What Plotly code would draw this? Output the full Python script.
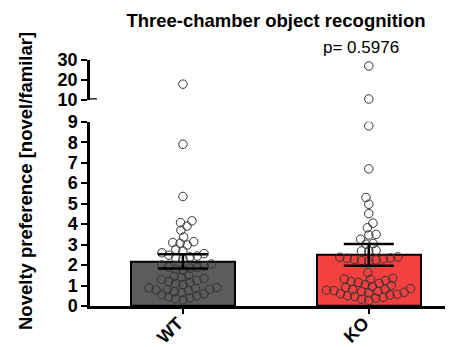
import math
import plotly.graph_objects as go

# ---- data -------------------------------------------------------------
groups = ["WT", "KO"]
group_means = [2.18, 2.50]
group_sem = [0.35, 0.53]
bar_colors = ["#5c5c5c", "#f4413f"]

wt_values = [
    17.8,
    7.9, 5.35, 4.16, 4.07, 3.9, 3.7, 3.37, 3.14, 3.1, 3.06, 2.98, 2.77, 2.69,
    2.6, 2.56, 2.48, 2.44, 2.4, 2.36, 2.31,
    2.05, 2.0, 1.95, 1.9, 1.88, 1.85, 1.8, 1.75,
    1.5, 1.45, 1.4, 1.35, 1.3, 1.25, 1.2, 1.15, 1.1, 1.05,
    0.9, 0.88, 0.85, 0.82, 0.8, 0.78, 0.75, 0.7, 0.65, 0.6, 0.55, 0.5,
    0.45, 0.4, 0.35, 0.3,
]
ko_values = [
    27.0, 10.3,
    8.8, 6.7, 5.3, 4.97, 4.51, 4.05, 3.82, 3.5, 3.47, 3.26, 3.05, 3.02,
    2.72, 2.69, 2.69,
    2.4, 2.38, 2.35, 2.33, 2.3, 2.28, 2.25, 2.22, 2.2, 1.63,
    1.35, 1.32, 1.3, 1.25, 1.2, 1.15, 1.1, 1.05, 1.0, 0.95, 0.9,
    0.85, 0.82, 0.8, 0.78, 0.75, 0.72, 0.7, 0.67, 0.64, 0.6, 0.57, 0.54,
    0.5, 0.46, 0.42, 0.38, 0.33, 0.28,
]
p_text = "p= 0.5976"

# ---- axis geometry ----------------------------------------------------
W, H = 451, 347
M_L, M_R, M_T, M_B = 90, 6, 60, 41
X_RANGE = [-0.5, 1.41]
LOW_RANGE = [0, 9]
HIGH_RANGE = [10, 30]
LOW_DOMAIN = [0.0, 0.749]
HIGH_DOMAIN = [0.839, 1.0]
BREAK = 9.5  # values above this go on the upper segment

plot_w = W - M_L - M_R
plot_h = H - M_T - M_B
px_per_x = plot_w / (X_RANGE[1] - X_RANGE[0])
px_per_y_low = plot_h * (LOW_DOMAIN[1] - LOW_DOMAIN[0]) / (LOW_RANGE[1] - LOW_RANGE[0])
px_per_y_high = plot_h * (HIGH_DOMAIN[1] - HIGH_DOMAIN[0]) / (HIGH_RANGE[1] - HIGH_RANGE[0])

MARKER = 8.5
SPACING = 7.3  # circles may overlap a little, as in a dense scatter column


def swarm_offsets(vals, ppu_y, diam):
    """Beeswarm layout: horizontal pixel offsets keeping centres diam apart."""
    order = sorted(range(len(vals)), key=lambda k: vals[k])
    placed = []
    offs = [0.0] * len(vals)
    for k in order:
        y = vals[k] * ppu_y
        cands = [0.0]
        forb = []
        for px, py in placed:
            dy = abs(py - y)
            if dy < diam:
                w = math.sqrt(diam * diam - dy * dy)
                forb.append((px - w, px + w))
                cands += [px - w, px + w]
        cands.sort(key=lambda c: (round(abs(c), 6), c))
        for c in cands:
            if all(not (a + 1e-6 < c < b - 1e-6) for a, b in forb):
                break
        placed.append((c, y))
        offs[k] = c
    return offs


fig = go.Figure()

# bars
fig.add_trace(go.Bar(
    x=[0, 1], y=group_means, width=0.56,
    marker=dict(color=bar_colors, line=dict(color="black", width=2)),
    showlegend=False, hoverinfo="skip",
))

# individual points, lower and upper segments
for gi, vals in enumerate([wt_values, ko_values]):
    low = [v for v in vals if v < BREAK]
    high = [v for v in vals if v >= BREAK]
    lo_off = swarm_offsets(low, px_per_y_low, SPACING)
    hi_off = swarm_offsets(high, px_per_y_high, SPACING)
    fig.add_trace(go.Scatter(
        x=[gi + o / px_per_x for o in lo_off], y=low, mode="markers",
        marker=dict(symbol="circle-open", size=MARKER,
                    color="#333333", line=dict(width=1)),
        showlegend=False, hoverinfo="y",
    ))
    fig.add_trace(go.Scatter(
        x=[gi + o / px_per_x for o in hi_off], y=high, mode="markers",
        yaxis="y2", cliponaxis=False,
        marker=dict(symbol="circle-open", size=MARKER,
                    color="#333333", line=dict(width=1)),
        showlegend=False, hoverinfo="y",
    ))

# mean +/- SEM drawn above the points
fig.add_trace(go.Scatter(
    x=[0, 1], y=group_means, mode="markers",
    marker=dict(size=1, color="rgba(0,0,0,0)"),
    error_y=dict(type="data", array=group_sem, color="black",
                 thickness=2.5, width=25),
    showlegend=False, hoverinfo="skip",
))

bold = "Liberation Sans, Arial, sans-serif"
axis_common = dict(
    showline=True, linecolor="black", linewidth=2.5,
    ticks="outside", tickcolor="black", tickwidth=2.2, ticklen=6,
    showgrid=False, zeroline=False, automargin=False,
    tickfont=dict(family=bold, size=18, color="black", weight="bold"),
)

fig.update_layout(
    width=W, height=H,
    margin=dict(l=M_L, r=M_R, t=M_T, b=M_B, autoexpand=False),
    paper_bgcolor="white", plot_bgcolor="white",
    bargap=0,
    title=dict(text="<b>Three-chamber object recognition</b>",
               xref="container", x=276 / W, xanchor="center",
               yref="container", y=1 - 21 / H, yanchor="middle",
               font=dict(family=bold, size=18.5, color="black")),
    xaxis=dict(
        range=X_RANGE, tickvals=[0, 1], showticklabels=False,
        showline=True, linecolor="black", linewidth=2.5,
        ticks="outside", tickcolor="black", tickwidth=2, ticklen=5,
        showgrid=False, zeroline=False, anchor="y", automargin=False,
    ),
    yaxis=dict(range=LOW_RANGE, domain=LOW_DOMAIN, dtick=1, anchor="x",
               **axis_common),
    yaxis2=dict(range=HIGH_RANGE, domain=HIGH_DOMAIN,
                tickvals=[10, 20, 30], anchor="x", **axis_common),
)

# slanted category labels, ending just under each tick
for gi, name in enumerate(groups):
    fig.add_annotation(
        text=f"<b>{name}</b>", textangle=-45,
        xref="x", x=gi, xshift=-12.5, xanchor="center",
        yref="paper", y=-(330 - (H - M_B)) / plot_h, yanchor="middle",
        showarrow=False, font=dict(family=bold, size=18, color="black"),
    )

# axis break marker at the foot of the upper segment
fig.add_shape(type="line", xref="paper", xsizemode="pixel", xanchor=0,
              x0=0, x1=7, yref="y2", y0=10, y1=10,
              line=dict(color="black", width=2.5))

fig.add_annotation(
    text="<b>Novelty preference [novel/familar]</b>", textangle=-90,
    xref="paper", x=(25 - M_L) / plot_w, xanchor="center",
    yref="paper", y=1 - (181 - M_T) / plot_h, yanchor="middle",
    showarrow=False, font=dict(family=bold, size=18.5, color="black"),
)
fig.add_annotation(
    text=p_text, xref="x", x=0.96, yref="paper",
    y=1 - (47.5 - M_T) / plot_h, yanchor="middle",
    showarrow=False, font=dict(family=bold, size=17, color="black"),
)

fig.write_html("out.html")
